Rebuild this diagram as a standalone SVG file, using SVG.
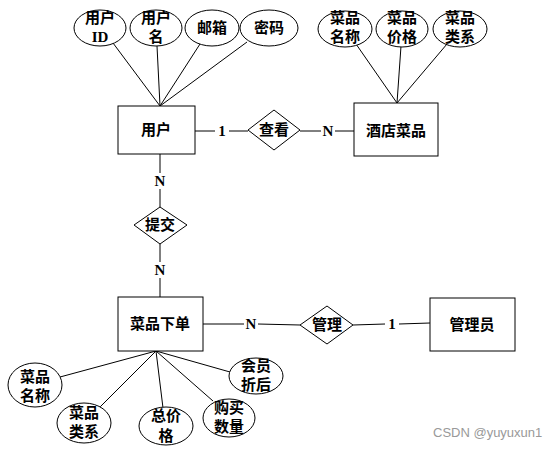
<svg xmlns="http://www.w3.org/2000/svg" width="558" height="449" viewBox="0 0 558 449">
<style>
.s{fill:#fff;stroke:#000;stroke-width:1}
.l{stroke:#000;stroke-width:1;fill:none}
.t{font-family:"Liberation Serif","Noto Sans CJK SC",serif;font-size:15px;font-weight:bold;text-anchor:middle;dominant-baseline:central;fill:#000}
.w{font-family:"Liberation Sans","Noto Sans",sans-serif;font-size:13px;fill:#999}
</style>
<rect width="558" height="449" fill="#fff"/>
<g id="connectors">
<line class="l" x1="113" y1="43" x2="160" y2="106"/>
<line class="l" x1="157" y1="46" x2="160" y2="106"/>
<line class="l" x1="200" y1="44" x2="160" y2="106"/>
<line class="l" x1="247" y1="42" x2="160" y2="106"/>
<line class="l" x1="356" y1="44" x2="397" y2="103"/>
<line class="l" x1="401" y1="46" x2="397" y2="103"/>
<line class="l" x1="447" y1="44" x2="397" y2="103"/>
<line class="l" x1="195" y1="131" x2="215" y2="131"/>
<line class="l" x1="229" y1="131" x2="248" y2="131"/>
<line class="l" x1="300" y1="131" x2="321" y2="131"/>
<line class="l" x1="335" y1="131" x2="354" y2="131"/>
<line class="l" x1="160" y1="154" x2="160" y2="173"/>
<line class="l" x1="160" y1="189" x2="160" y2="207"/>
<line class="l" x1="160" y1="244" x2="160" y2="262"/>
<line class="l" x1="160" y1="278" x2="160" y2="297"/>
<line class="l" x1="203" y1="324" x2="244" y2="324"/>
<line class="l" x1="258" y1="324" x2="300" y2="325"/>
<line class="l" x1="353" y1="325" x2="385" y2="324"/>
<line class="l" x1="399" y1="324" x2="430" y2="323"/>
<line class="l" x1="156" y1="351" x2="60" y2="377"/>
<line class="l" x1="156" y1="351" x2="100" y2="407"/>
<line class="l" x1="156" y1="351" x2="163" y2="408"/>
<line class="l" x1="156" y1="351" x2="213" y2="401"/>
<line class="l" x1="156" y1="351" x2="230" y2="372"/>
</g>
<g id="lbl">
<text class="t" x="222" y="131">1</text>
<text class="t" x="328" y="131">N</text>
<text class="t" x="160" y="181">N</text>
<text class="t" x="160" y="270">N</text>
<text class="t" x="251" y="324">N</text>
<text class="t" x="392" y="324">1</text>
</g>
<g id="user"><rect class="s" x="118" y="106" width="77" height="48"/><text class="t" x="156" y="130">用户</text></g>
<g id="dish"><rect class="s" x="354" y="103" width="84" height="53"/><text class="t" x="396" y="131">酒店菜品</text></g>
<g id="order"><rect class="s" x="118" y="297" width="85" height="54"/><text class="t" x="160" y="324">菜品下单</text></g>
<g id="admin"><rect class="s" x="430" y="298" width="85" height="53"/><text class="t" x="472" y="325">管理员</text></g>
<g id="view"><polygon class="s" points="248,130 274,110 300,130 274,150"/><text class="t" x="274" y="130">查看</text></g>
<g id="submit"><polygon class="s" points="134,225 160,207 187,225 160,244"/><text class="t" x="160" y="225">提交</text></g>
<g id="manage"><polygon class="s" points="300,325 327,306 353,325 327,344"/><text class="t" x="327" y="325">管理</text></g>
<g id="a-uid"><ellipse class="s" cx="100" cy="28" rx="26" ry="18"/><text class="t" x="100" y="18">用户</text><text class="t" x="100" y="37">ID</text></g>
<g id="a-uname"><ellipse class="s" cx="156" cy="28" rx="26" ry="18"/><text class="t" x="156" y="18">用户</text><text class="t" x="156" y="37">名</text></g>
<g id="a-mail"><ellipse class="s" cx="212" cy="28" rx="27" ry="18"/><text class="t" x="212" y="28">邮箱</text></g>
<g id="a-pwd"><ellipse class="s" cx="269" cy="28" rx="29" ry="18"/><text class="t" x="269" y="28">密码</text></g>
<g id="a-dname"><ellipse class="s" cx="345" cy="29" rx="27" ry="18"/><text class="t" x="345" y="18">菜品</text><text class="t" x="345" y="37">名称</text></g>
<g id="a-dprice"><ellipse class="s" cx="402" cy="29" rx="26" ry="18"/><text class="t" x="402" y="18">菜品</text><text class="t" x="402" y="37">价格</text></g>
<g id="a-dtype"><ellipse class="s" cx="460" cy="29" rx="27" ry="18"/><text class="t" x="460" y="18">菜品</text><text class="t" x="460" y="37">类系</text></g>
<g id="b-name"><ellipse class="s" cx="35" cy="385" rx="27" ry="22"/><text class="t" x="35" y="377">菜品</text><text class="t" x="35" y="396">名称</text></g>
<g id="b-type"><ellipse class="s" cx="84" cy="423" rx="27" ry="20"/><text class="t" x="84" y="413">菜品</text><text class="t" x="84" y="432">类系</text></g>
<g id="b-total"><ellipse class="s" cx="166" cy="426" rx="27" ry="19"/><text class="t" x="166" y="416">总价</text><text class="t" x="166" y="436">格</text></g>
<g id="b-qty"><ellipse class="s" cx="229" cy="418" rx="26" ry="19"/><text class="t" x="229" y="408">购买</text><text class="t" x="229" y="427">数量</text></g>
<g id="b-disc"><ellipse class="s" cx="256" cy="376" rx="27" ry="18"/><text class="t" x="256" y="366">会员</text><text class="t" x="256" y="385">折后</text></g>
<text class="w" x="433" y="437">CSDN @yuyuxun1</text>
</svg>
